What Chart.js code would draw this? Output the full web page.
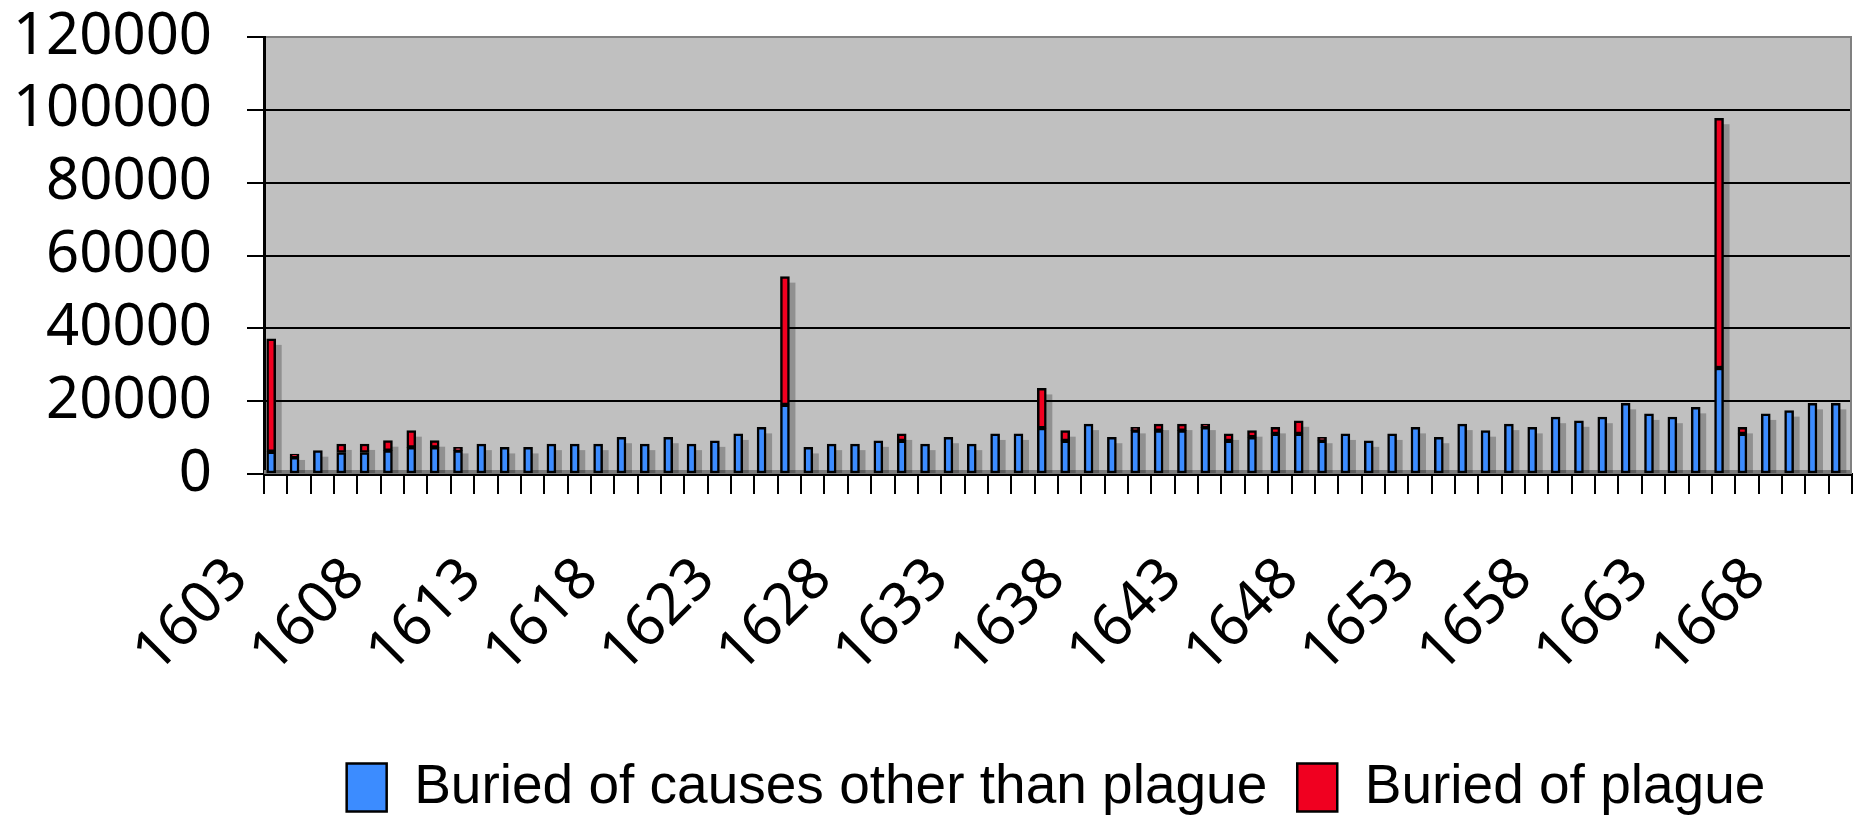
<!DOCTYPE html>
<html>
<head>
<meta charset="utf-8">
<script src="https://cdn.jsdelivr.net/npm/chart.js@4.4.1/dist/chart.umd.min.js"></script>
<style>
  html, body { margin: 0; padding: 0; background: #fff; }
  #wrap { width: 1853px; height: 828px; position: relative; }
</style>
</head>
<body>
<div id="wrap"><canvas id="burials"></canvas></div>
<script>
// London bills of mortality
const years = [
  "1603","1604","1605","1606","1607","1608","1609","1610","1611","1612",
  "1613","1614","1615","1616","1617","1618","1619","1620","1621","1622",
  "1623","1624","1625","1626","1627","1628","1629","1630","1631","1632",
  "1633","1634","1635","1636","1637","1638","1639","1640","1641","1642",
  "1643","1644","1645","1646","1647","1648","1649","1650","1651","1652",
  "1653","1654","1655","1656","1657","1658","1659","1660","1661","1662",
  "1663","1664","1665","1666","1667","1668","1669","1670"
];
const otherCauses = [
  6100, 4600, 6400, 5900, 5900, 6400, 7300, 7300, 6400, 8200,
  7300, 7300, 8200, 8200, 8200, 10100, 8200, 10100, 8200, 9100,
  11000, 12800, 19000, 7300, 8200, 8200, 9100, 9100, 8200, 10100,
  8200, 11000, 11000, 12600, 9100, 13700, 10100, 11900, 11900, 11900,
  12800, 9100, 10100, 11000, 11000, 9100, 11000, 9100, 11000, 12800,
  10100, 13700, 11900, 13700, 12800, 15600, 14600, 15600, 19400, 16500,
  15600, 18300, 29100, 11000, 16500, 17400, 19400, 19400
];
const plague = [
  31000, 900, 0, 2350, 2350, 2750, 4600, 1850, 900, 0,
  0, 0, 0, 0, 0, 0, 0, 0, 0, 0,
  0, 0, 35200, 0, 0, 0, 0, 1900, 0, 0,
  0, 0, 0, 10900, 2800, 0, 0, 900, 1800, 1800,
  900, 1900, 1800, 1800, 3600, 1000, 0, 0, 0, 0,
  0, 0, 0, 0, 0, 0, 0, 0, 0, 0,
  0, 0, 68600, 1800, 0, 0, 0, 0
];
const yTicks = [0, 20000, 40000, 60000, 80000, 100000, 120000];

const seriesNames = ["Buried of causes other than plague", "Buried of plague"];

// grey plot area, floor strip, offset shadows behind each stacked bar
const plotDecor = {
  id: 'plotDecor',
  beforeDraw(chart) {
    const { ctx, chartArea: a } = chart;
    ctx.save();
    ctx.fillStyle = '#c0c0c0';
    ctx.fillRect(a.left, a.top, a.right - a.left, a.bottom - a.top);
    ctx.restore();
  },
  beforeDatasetsDraw(chart) {
    const { ctx, chartArea: a } = chart;
    const lower = chart.getDatasetMeta(0).data;
    const upper = chart.getDatasetMeta(1).data;
    ctx.save();
    ctx.beginPath();
    ctx.rect(a.left, a.top, a.right - a.left, a.bottom - a.top);
    ctx.clip();
    ctx.fillStyle = '#7c7c7c';
    ctx.fillRect(a.left, a.bottom - 4, a.right - a.left, 4);
    ctx.fillStyle = 'rgba(0,0,0,0.25)';
    lower.forEach((bar, i) => {
      const top = Math.min(bar.y, upper[i].y);
      ctx.fillRect(bar.x - bar.width / 2 + 6, top + 6, bar.width, bar.base - top - 6);
    });
    ctx.strokeStyle = '#808080';
    ctx.lineWidth = 2;
    ctx.beginPath();
    ctx.moveTo(a.right - 1, a.top);
    ctx.lineTo(a.right - 1, a.bottom);
    ctx.stroke();
    ctx.restore();
  },
  afterLayout(chart) {
    // legend sits right of centre in the original
    const lg = chart.legend;
    if (!lg) return;
    lg.left += 130;
    lg.right += 130;
    const h = lg.height;
    lg.top = 730;
    lg.bottom = 730 + h;
  }
};

new Chart(document.getElementById('burials'), {
  type: 'bar',
  data: {
    labels: years,
    datasets: [
      {
        label: seriesNames[0],
        data: otherCauses,
        stack: 'burials',
        backgroundColor: '#3c8cff',
        borderColor: '#000',
        borderWidth: 2.5,
        borderSkipped: false,
        barThickness: 9
      },
      {
        label: seriesNames[1],
        data: plague,
        stack: 'burials',
        backgroundColor: '#f00020',
        borderColor: '#000',
        borderWidth: 2.5,
        borderSkipped: false,
        barThickness: 9
      },
      {
        // empty second slot so the bars sit left of the category centre
        label: 'pad',
        data: years.map(() => 0),
        stack: 'pad',
        backgroundColor: 'rgba(0,0,0,0)',
        borderWidth: 0,
        barThickness: 8
      }
    ]
  },
  options: {
    responsive: true,
    maintainAspectRatio: false,
    animation: false,
    layout: { padding: { top: 37, right: 1, bottom: 0, left: 0 } },
    plugins: {
      tooltip: { enabled: false },
      legend: {
        position: 'bottom',
        labels: {
          filter: (item) => item.datasetIndex < 2,
          boxWidth: 40,
          boxHeight: 48,
          padding: 30,
          color: '#000',
          font: { family: '"Liberation Sans", Arial, sans-serif', size: 55 }
        }
      }
    },
    scales: {
      x: {
        stacked: true,
        offset: true,
        grid: {
          offset: true,
          drawOnChartArea: false,
          drawTicks: true,
          tickLength: 20,
          color: '#000',
          lineWidth: 2
        },
        border: { color: '#000', width: 3 },
        ticks: {
          autoSkip: false,
          minRotation: 45,
          maxRotation: 45,
          padding: 51,
          labelOffset: -37,
          color: '#000',
          font: { family: '"Noto Sans", sans-serif', size: 58 },
          callback: function (value, index) {
            return index % 5 === 0 ? this.getLabelForValue(value) : '';
          }
        },
        afterFit: (scale) => {
          scale.height = 259;
          scale.paddingLeft = 0;
          scale.paddingRight = 0;
        }
      },
      y: {
        stacked: true,
        min: 0,
        max: 120000,
        afterBuildTicks: (scale) => { scale.ticks = yTicks.map((v) => ({ value: v })); },
        grid: {
          color: (c) => (c.tick && c.tick.value === 120000 ? '#808080' : '#000'),
          tickColor: '#000',
          lineWidth: 2,
          tickLength: 17
        },
        border: { color: '#000', width: 3 },
        ticks: {
          autoSkip: false,
          padding: 35,
          color: '#000',
          font: { family: '"Noto Sans", sans-serif', size: 58 },
          callback: (v) => String(v)
        },
        afterFit: (scale) => {
          scale.width = 264;
          scale.paddingTop = 0;
          scale.paddingBottom = 0;
        }
      }
    }
  },
  plugins: [plotDecor]
});
</script>
</body>
</html>
